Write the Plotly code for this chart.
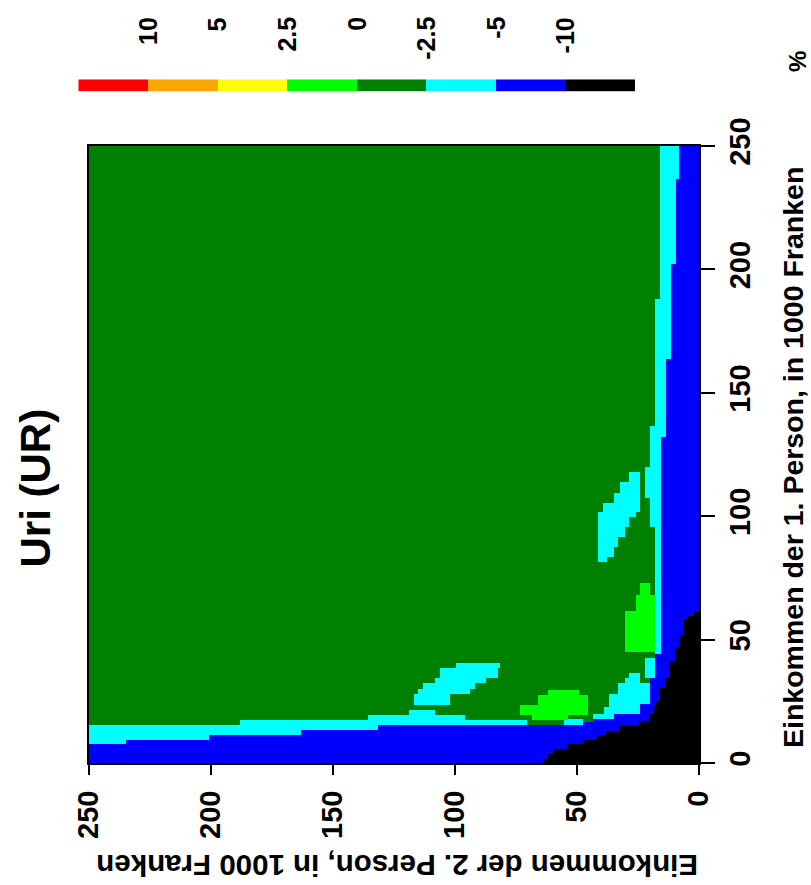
import numpy as np
import plotly.graph_objects as go

W, H = 811, 885

# ---------------- data ----------------
CLASS_COLORS = ["#FF0000", "#FFA500", "#FFFF00", "#00FF00",
                "#008000", "#00FFFF", "#0000FF", "#000000"]
LEGEND_LABELS = ["10", "5", "2.5", "0", "-2.5", "-5", "-10"]
AXIS_TICKS = [0, 50, 100, 150, 200, 250]

TITLE = "Uri (UR)"
X_TITLE = "Einkommen der 2. Person, in 1000 Franken"
Y_TITLE = "Einkommen der 1. Person, in 1000 Franken"
UNIT = "%"

# class codes: 3 = 0..2.5, 4 = -2.5..0, 5 = -5..-2.5, 6 = -10..-5, 7 = < -10
BACKGROUND_CLASS = 4

# bands along the "2. Person = 0" edge: (e1_lo, e1_hi, e2_hi)
CYAN_EDGE_E1 = [(188, 250, 16.0), (136.4, 188, 17.8), (119.8, 136.4, 19.8),
                (107.7, 119.8, 21.8), (95.5, 107.7, 19.8), (42.7, 95.5, 17.8),
                (34.6, 42.7, 22.0)]
BLUE_EDGE_E1 = [(0, 132, 15.7), (132, 163.4, 13.7), (163.4, 202, 11.6),
                (202, 236.6, 9.5), (236.6, 250, 7.8)]

# bands along the "1. Person = 0" edge: (e2_lo, e2_hi, e1_hi)
CYAN_EDGE_E2 = [(188, 250, 15.4), (135.5, 188, 17.4), (119.1, 135.5, 19.4),
                (108.2, 119.1, 21.4), (95.9, 108.2, 19.4), (70.6, 95.9, 17.3),
                (47.4, 55.6, 17.9)]
BLUE_EDGE_E2 = [(15.7, 18, 44), (18, 20, 34.6), (20, 24, 24), (24, 35, 20),
                (35, 43, 17.9), (43, 47.5, 16.5), (47.5, 131.4, 15.4),
                (131.4, 163.2, 13.4), (163.2, 201.1, 11.4), (201.1, 235.2, 9.3),
                (235.2, 250, 7.3)]
BLACK_EDGE_E2 = [(0, 2, 61), (2, 4.5, 59.7), (4.5, 6, 58.3), (6, 8, 52.2),
                 (8, 10, 46.8), (10, 12, 41.4), (12, 14, 34.6), (14, 16, 30.6),
                 (16, 17.5, 25.2), (17.5, 18.5, 22.4), (18.5, 20.5, 19.8),
                 (20.5, 24.5, 17), (24.5, 32.5, 15), (32.5, 38, 13),
                 (38, 42, 11.6), (42, 47.5, 9.6), (47.5, 54, 7.6),
                 (54, 60, 5.6), (60, 62, 3.5), (62, 64, 1.5)]

# isolated patches: (e2_lo, e2_hi, e1_lo, e1_hi)
CYAN_PATCHES = [
    # upper patch
    (24.2, 28.3, 113.8, 117.8), (24.2, 32.4, 109.7, 113.8), (24.2, 35.2, 105.7, 109.7),
    (24.2, 39.3, 101.6, 105.7), (26.2, 41.4, 99.6, 101.6), (28.3, 41.4, 95.5, 99.6),
    (30.3, 41.4, 91.5, 95.5), (33.2, 41.4, 87.4, 91.5), (35.2, 41.4, 83.4, 87.4),
    (37.7, 41.4, 81.3, 83.4),
    # patch near 2. Person ~ 100
    (81.6, 99.3, 38.4, 40.7), (82.5, 106.1, 34.6, 38.4), (87.7, 108.2, 32.5, 34.6),
    (91.8, 113.1, 30.1, 32.5), (93.9, 115.2, 27.8, 30.1), (102, 117.2, 23.5, 27.8),
    # patch near the corner
    (24.2, 28.3, 34.6, 36.6), (24.2, 30.3, 32.5, 34.6), (20, 33, 27.8, 32.5),
    (20, 37.2, 22.4, 27.8), (24.2, 39.2, 20, 22.4), (35.1, 43.3, 17.9, 20),
]
LIME_PATCHES = [
    (20, 24.2, 67.8, 73), (18, 26.2, 61.7, 67.8), (18, 30.3, 44.8, 61.7),
    (48.8, 61.8, 27.5, 29.7), (45.4, 65.8, 23.5, 27.5), (45.4, 73.4, 19.7, 23.5),
    (53.6, 68.6, 17.7, 19.7),
]

# ---------------- build the class grid ----------------
STEP = 0.5
e2c = np.arange(STEP / 2, 250, STEP)
e1c = np.arange(STEP / 2, 250, STEP)
E2, E1 = np.meshgrid(e2c, e1c)
z = np.full(E1.shape, BACKGROUND_CLASS, dtype=int)


def paint(cls, e2lo, e2hi, e1lo, e1hi):
    z[(E2 >= e2lo) & (E2 < e2hi) & (E1 >= e1lo) & (E1 < e1hi)] = cls


for lo, hi, r in CYAN_EDGE_E1:
    paint(5, 0, r, lo, hi)
for lo, hi, t in CYAN_EDGE_E2:
    paint(5, lo, hi, 0, t)
for a, b, c, d in CYAN_PATCHES:
    paint(5, a, b, c, d)
for a, b, c, d in LIME_PATCHES:
    paint(3, a, b, c, d)
for lo, hi, r in BLUE_EDGE_E1:
    paint(6, 0, r, lo, hi)
for lo, hi, t in BLUE_EDGE_E2:
    paint(6, lo, hi, 0, t)
for lo, hi, t in BLACK_EDGE_E2:
    paint(7, lo, hi, 0, t)

n = len(CLASS_COLORS)
colorscale = []
for i, c in enumerate(CLASS_COLORS):
    colorscale.append([i / n, c])
    colorscale.append([(i + 1) / n, c])

FONT = "Liberation Sans, Arial, sans-serif"

fig = go.Figure()
fig.add_trace(go.Heatmap(x=e2c, y=e1c, z=z, colorscale=colorscale,
                         zmin=-0.5, zmax=n - 0.5, showscale=False,
                         hoverinfo="skip", xaxis="x", yaxis="y"))
fig.add_trace(go.Heatmap(x=list(range(n)), y=[0], z=[list(range(n))],
                         colorscale=colorscale, zmin=-0.5, zmax=n - 0.5,
                         showscale=False, hoverinfo="skip",
                         xaxis="x2", yaxis="y2"))


def px_x(v):
    return v / W


def px_y(v):
    return (H - v) / H


tickfont = dict(family=FONT, size=29, color="black", weight="bold")
axis_common = dict(tickvals=AXIS_TICKS, ticktext=[str(t) for t in AXIS_TICKS],
                   tickangle=-90, ticks="outside", tickwidth=2, tickcolor="black",
                   showline=True, linecolor="black", linewidth=2, mirror=True,
                   showgrid=False, zeroline=False, tickfont=tickfont,
                   automargin=False)

fig.update_layout(
    width=W, height=H, autosize=False,
    margin=dict(l=0, r=0, t=0, b=0, pad=0),
    paper_bgcolor="white", plot_bgcolor="white",
    showlegend=False,
    xaxis=dict(domain=[px_x(89), px_x(699)], range=[250, 0], anchor="y",
               ticklen=10, ticklabelstandoff=4, **axis_common),
    yaxis=dict(domain=[px_y(763), px_y(146)], range=[0, 250], anchor="x",
               side="right", ticklen=14, **axis_common),
    xaxis2=dict(domain=[px_x(78.3), px_x(635)], range=[-0.5, n - 0.5],
                anchor="y2", visible=False, automargin=False),
    yaxis2=dict(domain=[px_y(91.7), px_y(79.3)], range=[-0.5, 0.5],
                anchor="x2", visible=False, automargin=False),
)

ann = []
for i, lab in enumerate(LEGEND_LABELS):
    ann.append(dict(x=i + 0.5, xref="x2", y=px_y(15), yref="paper",
                    text=lab, showarrow=False, textangle=-90,
                    xanchor="center", yanchor="top",
                    font=dict(family=FONT, size=25, color="black", weight="bold")))
ann.append(dict(x=px_x(797), y=px_y(62), xref="paper", yref="paper",
                text=UNIT, showarrow=False, textangle=-90,
                xanchor="center", yanchor="middle",
                font=dict(family=FONT, size=24, color="black", weight="bold")))
ann.append(dict(x=px_x(35), y=px_y(570), xref="paper", yref="paper",
                text=TITLE, showarrow=False, textangle=-90,
                xanchor="center", yanchor="bottom",
                font=dict(family=FONT, size=42, color="black", weight="bold")))
ann.append(dict(x=px_x(397), y=px_y(866), xref="paper", yref="paper",
                text=X_TITLE, showarrow=False, textangle=180,
                xanchor="center", yanchor="middle",
                font=dict(family=FONT, size=29.5, color="black", weight="bold")))
ann.append(dict(x=px_x(793), y=px_y(458), xref="paper", yref="paper",
                text=Y_TITLE, showarrow=False, textangle=-90,
                xanchor="center", yanchor="middle",
                font=dict(family=FONT, size=28.5, color="black", weight="bold")))
fig.update_layout(annotations=ann)

fig.write_html("out.html", config={"displayModeBar": False},
               post_script="document.body.style.margin='0px';")
